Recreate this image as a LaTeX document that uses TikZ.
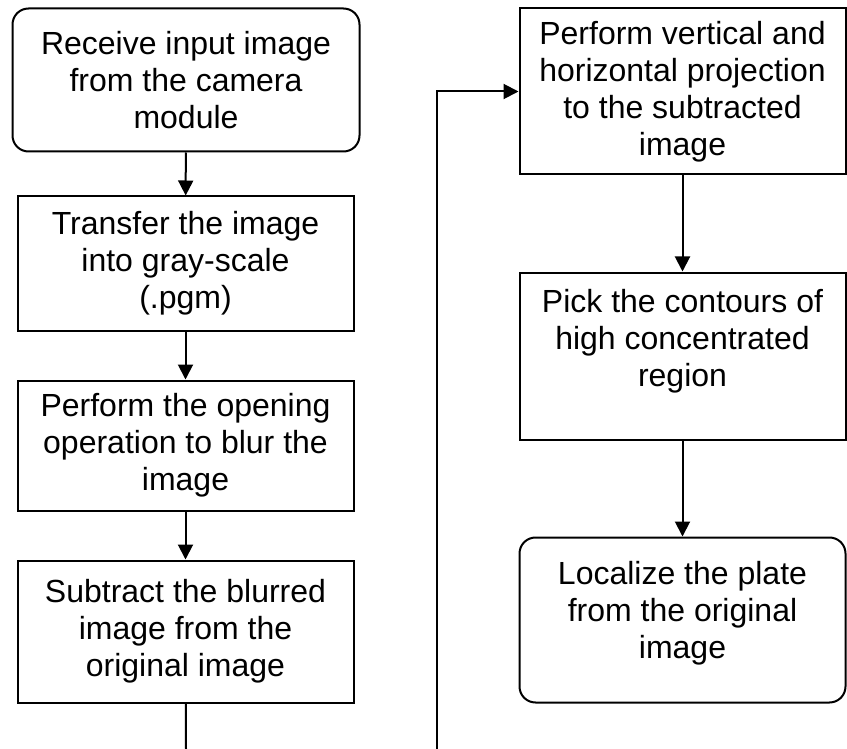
\documentclass[tikz,border=0pt]{standalone}
\usepackage{fontspec}
\setmainfont{Liberation Sans}
\usepackage{tikz}
\usetikzlibrary{shapes,arrows.meta,positioning}

\begin{document}
\begin{tikzpicture}[x=1pt,y=1pt,
	stepbox/.style={draw=black,line width=2pt,align=center,inner sep=0pt,
		font=\fontsize{32}{37}\selectfont},
	roundbox/.style={stepbox,rounded corners=16pt},
	flow/.style={line width=2pt,-{Triangle[length=15pt,width=15pt]}}]
	\useasboundingbox (0,0) rectangle (847,-749);
	%% left column
	\node[roundbox,minimum width=347pt,minimum height=143pt] (recv) at (186,-80) {Receive input image\\from the camera\\module};
	\node[stepbox,minimum width=336pt,minimum height=134pt] (gray) at (185.5,-263.5) {Transfer the image\\into gray-scale\\(.pgm)};
	\node[stepbox,minimum width=336pt,minimum height=130pt] (open) at (185.5,-445.5) {Perform the opening\\operation to blur the\\image};
	\node[stepbox,minimum width=336pt,minimum height=142pt] (sub) at (185.5,-631.5) {Subtract the blurred\\image from the\\original image};
	%% right column
	\node[stepbox,minimum width=326pt,minimum height=166pt] (proj) at (682.5,-91.5) {Perform vertical and\\horizontal projection\\to the subtracted\\image};
	\node[stepbox,minimum width=326pt,minimum height=167pt] (pick) at (682.5,-356) {Pick the contours of\\high concentrated\\region\\ \mbox{}};
	\node[roundbox,minimum width=326pt,minimum height=165pt] (plate) at (682.5,-620) {Localize the plate\\from the original\\image\\[-16pt]\mbox{}};
	%% open ends at the lower edge
	\coordinate (subend) at (186,-749);
	\coordinate (loopend) at (437,-749);
	%% the arrows
	\draw[flow] (recv) -- (gray);
	\draw[flow] (gray) -- (open);
	\draw[flow] (open) -- (sub);
	\draw[line width=2pt] (sub) -- (subend);
	\draw[flow] (loopend) |- (proj.west);
	\draw[flow] (proj) -- (pick);
	\draw[flow] (pick) -- (plate);
\end{tikzpicture}
\end{document}
